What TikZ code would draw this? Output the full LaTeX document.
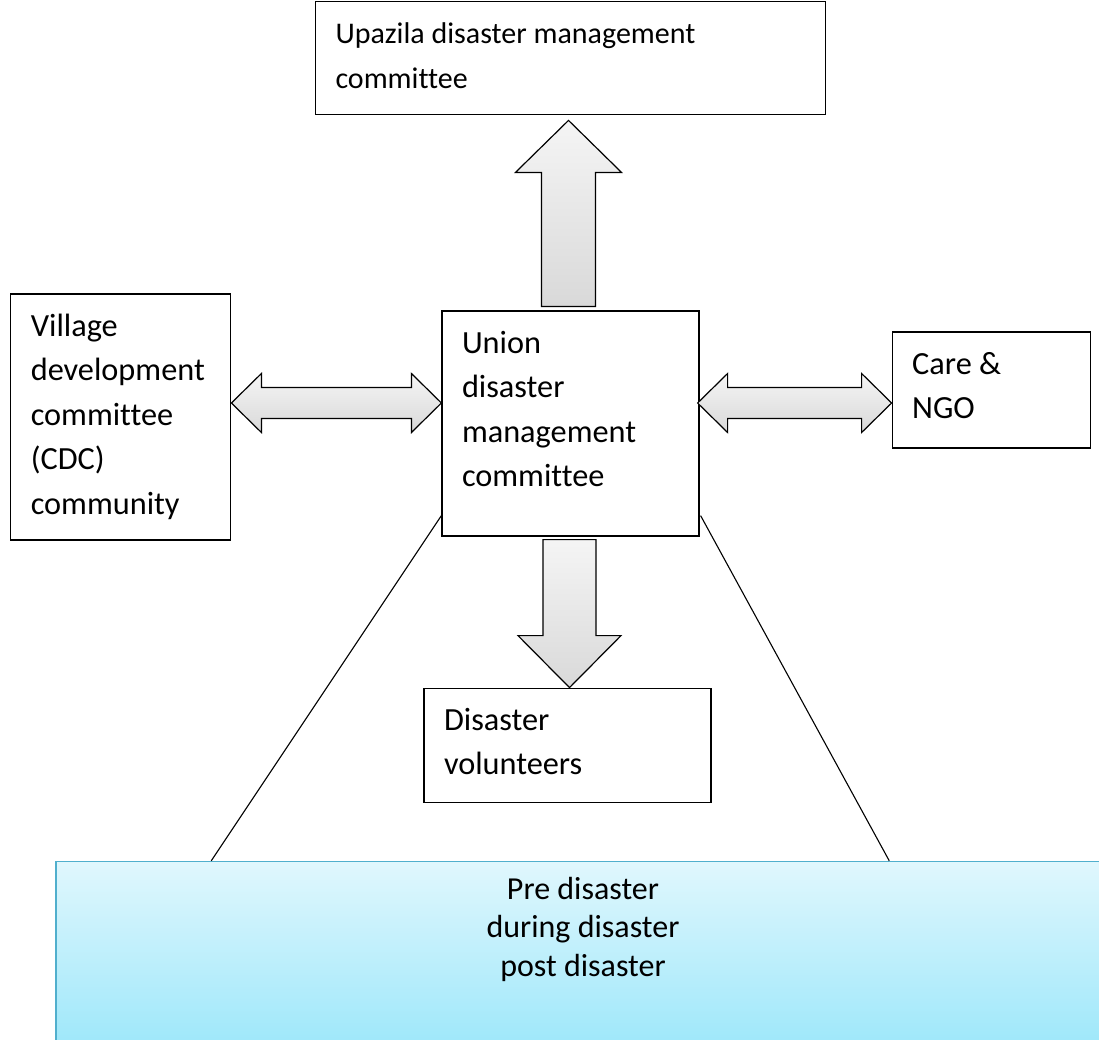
\documentclass[tikz,border=0pt]{standalone}
\usepackage{fontspec}
\setmainfont{Carlito}[Ligatures=NoCommon]
\usetikzlibrary{positioning, calc}

\definecolor{phasetop}{RGB}{224,247,253}
\definecolor{phasebot}{RGB}{160,232,250}
\definecolor{phaseline}{RGB}{80,175,205}

\tikzset{
  box/.style={draw, line width=1.2pt, rectangle, align=flush left, inner xsep=20pt, inner ysep=0pt,
    text height=42pt, font=\fontsize{32.3}{44.5}\selectfont},
  blockarrow/.style={draw=black, line width=1.2pt, line join=miter, top color=gray!8, bottom color=gray!30},
  phasebox/.style={draw=phaseline, line width=1.5pt, rectangle, top color=phasetop, bottom color=phasebot},
  phasetext/.style={align=center, inner sep=0pt, font=\fontsize{32}{38.5}\selectfont},
}

\begin{document}
\begin{tikzpicture}[x=1pt, y=-1pt]
  \useasboundingbox (0,0) rectangle (1099,1039);

  % committees
  \node[box, text width=217pt, text depth=183pt] (udmc) at (570.5,423.5) {Union\\disaster\\management\\committee};
  \node[box, text width=470pt, text depth=71pt, above=195pt of udmc, font=\fontsize{30}{45}\selectfont] (upz) {Upazila disaster management\\committee};
  \node[box, text width=180pt, text depth=204pt, left=210pt of udmc, yshift=6.5pt] (vdc) {Village\\development\\committee\\(CDC)\\community};
  \node[box, text width=158pt, text depth=74pt, right=192pt of udmc, yshift=33.5pt] (ngo) {Care \&\\NGO};
  \node[box, text width=247pt, text depth=72pt, below=151pt of udmc, xshift=-3pt] (vol) {Disaster\\volunteers};

  % phases
  \node[phasebox, minimum width=1054pt, minimum height=179pt, below=58pt of vol, xshift=15.5pt] (phase) {};
  \node[phasetext, below=16pt of phase.north] (phasetxt) {Pre disaster\\during disaster\\post disaster};

  \draw[line width=1.1pt] ($(udmc.south west)+(0,-21)$) -- ($(phase.north west)+(156,0)$);
  \draw[line width=1.1pt] ($(udmc.south east)+(1,-21)$) -- ($(phase.north west)+(834,0)$);

  % up arrow
  \coordinate (ua) at ($(udmc.north)+(-2,-4)$);
  \coordinate (ut) at (ua|-upz.south);
  \coordinate (ub) at ($(ut)+(0,5)$);
  \draw[blockarrow] ($(ua)+(-27,0)$) -- ($(ub)+(-27,52)$) -- ($(ub)+(-53,52)$) -- (ub)
    -- ($(ub)+(53,52)$) -- ($(ub)+(27,52)$) -- ($(ua)+(27,0)$) -- cycle;

  % down arrow
  \coordinate (da) at ($(udmc.south)+(-1,3)$);
  \coordinate (db) at (da|-vol.north);
  \draw[blockarrow] ($(da)+(-26.5,0)$) -- ($(db)+(-26.5,-52)$) -- ($(db)+(-51.5,-52)$) -- (db)
    -- ($(db)+(51.5,-52)$) -- ($(db)+(26.5,-52)$) -- ($(da)+(26.5,0)$) -- cycle;

  % left double arrow
  \coordinate (la) at ($(vdc.east)+(0,-14)$);
  \coordinate (lb) at (udmc.west|-la);
  \draw[blockarrow] (la) -- ($(la)+(30,-29.5)$) -- ($(la)+(30,-15.5)$) -- ($(lb)+(-30,-15.5)$)
    -- ($(lb)+(-30,-29.5)$) -- (lb) -- ($(lb)+(-30,29.5)$) -- ($(lb)+(-30,15.5)$)
    -- ($(la)+(30,15.5)$) -- ($(la)+(30,29.5)$) -- cycle;

  % right double arrow
  \coordinate (ra) at ($(udmc.east|-la)+(-2,0)$);
  \coordinate (rb) at (ngo.west|-la);
  \draw[blockarrow] (ra) -- ($(ra)+(30,-29.5)$) -- ($(ra)+(30,-15.5)$) -- ($(rb)+(-30,-15.5)$)
    -- ($(rb)+(-30,-29.5)$) -- (rb) -- ($(rb)+(-30,29.5)$) -- ($(rb)+(-30,15.5)$)
    -- ($(ra)+(30,15.5)$) -- ($(ra)+(30,29.5)$) -- cycle;
\end{tikzpicture}
\end{document}
